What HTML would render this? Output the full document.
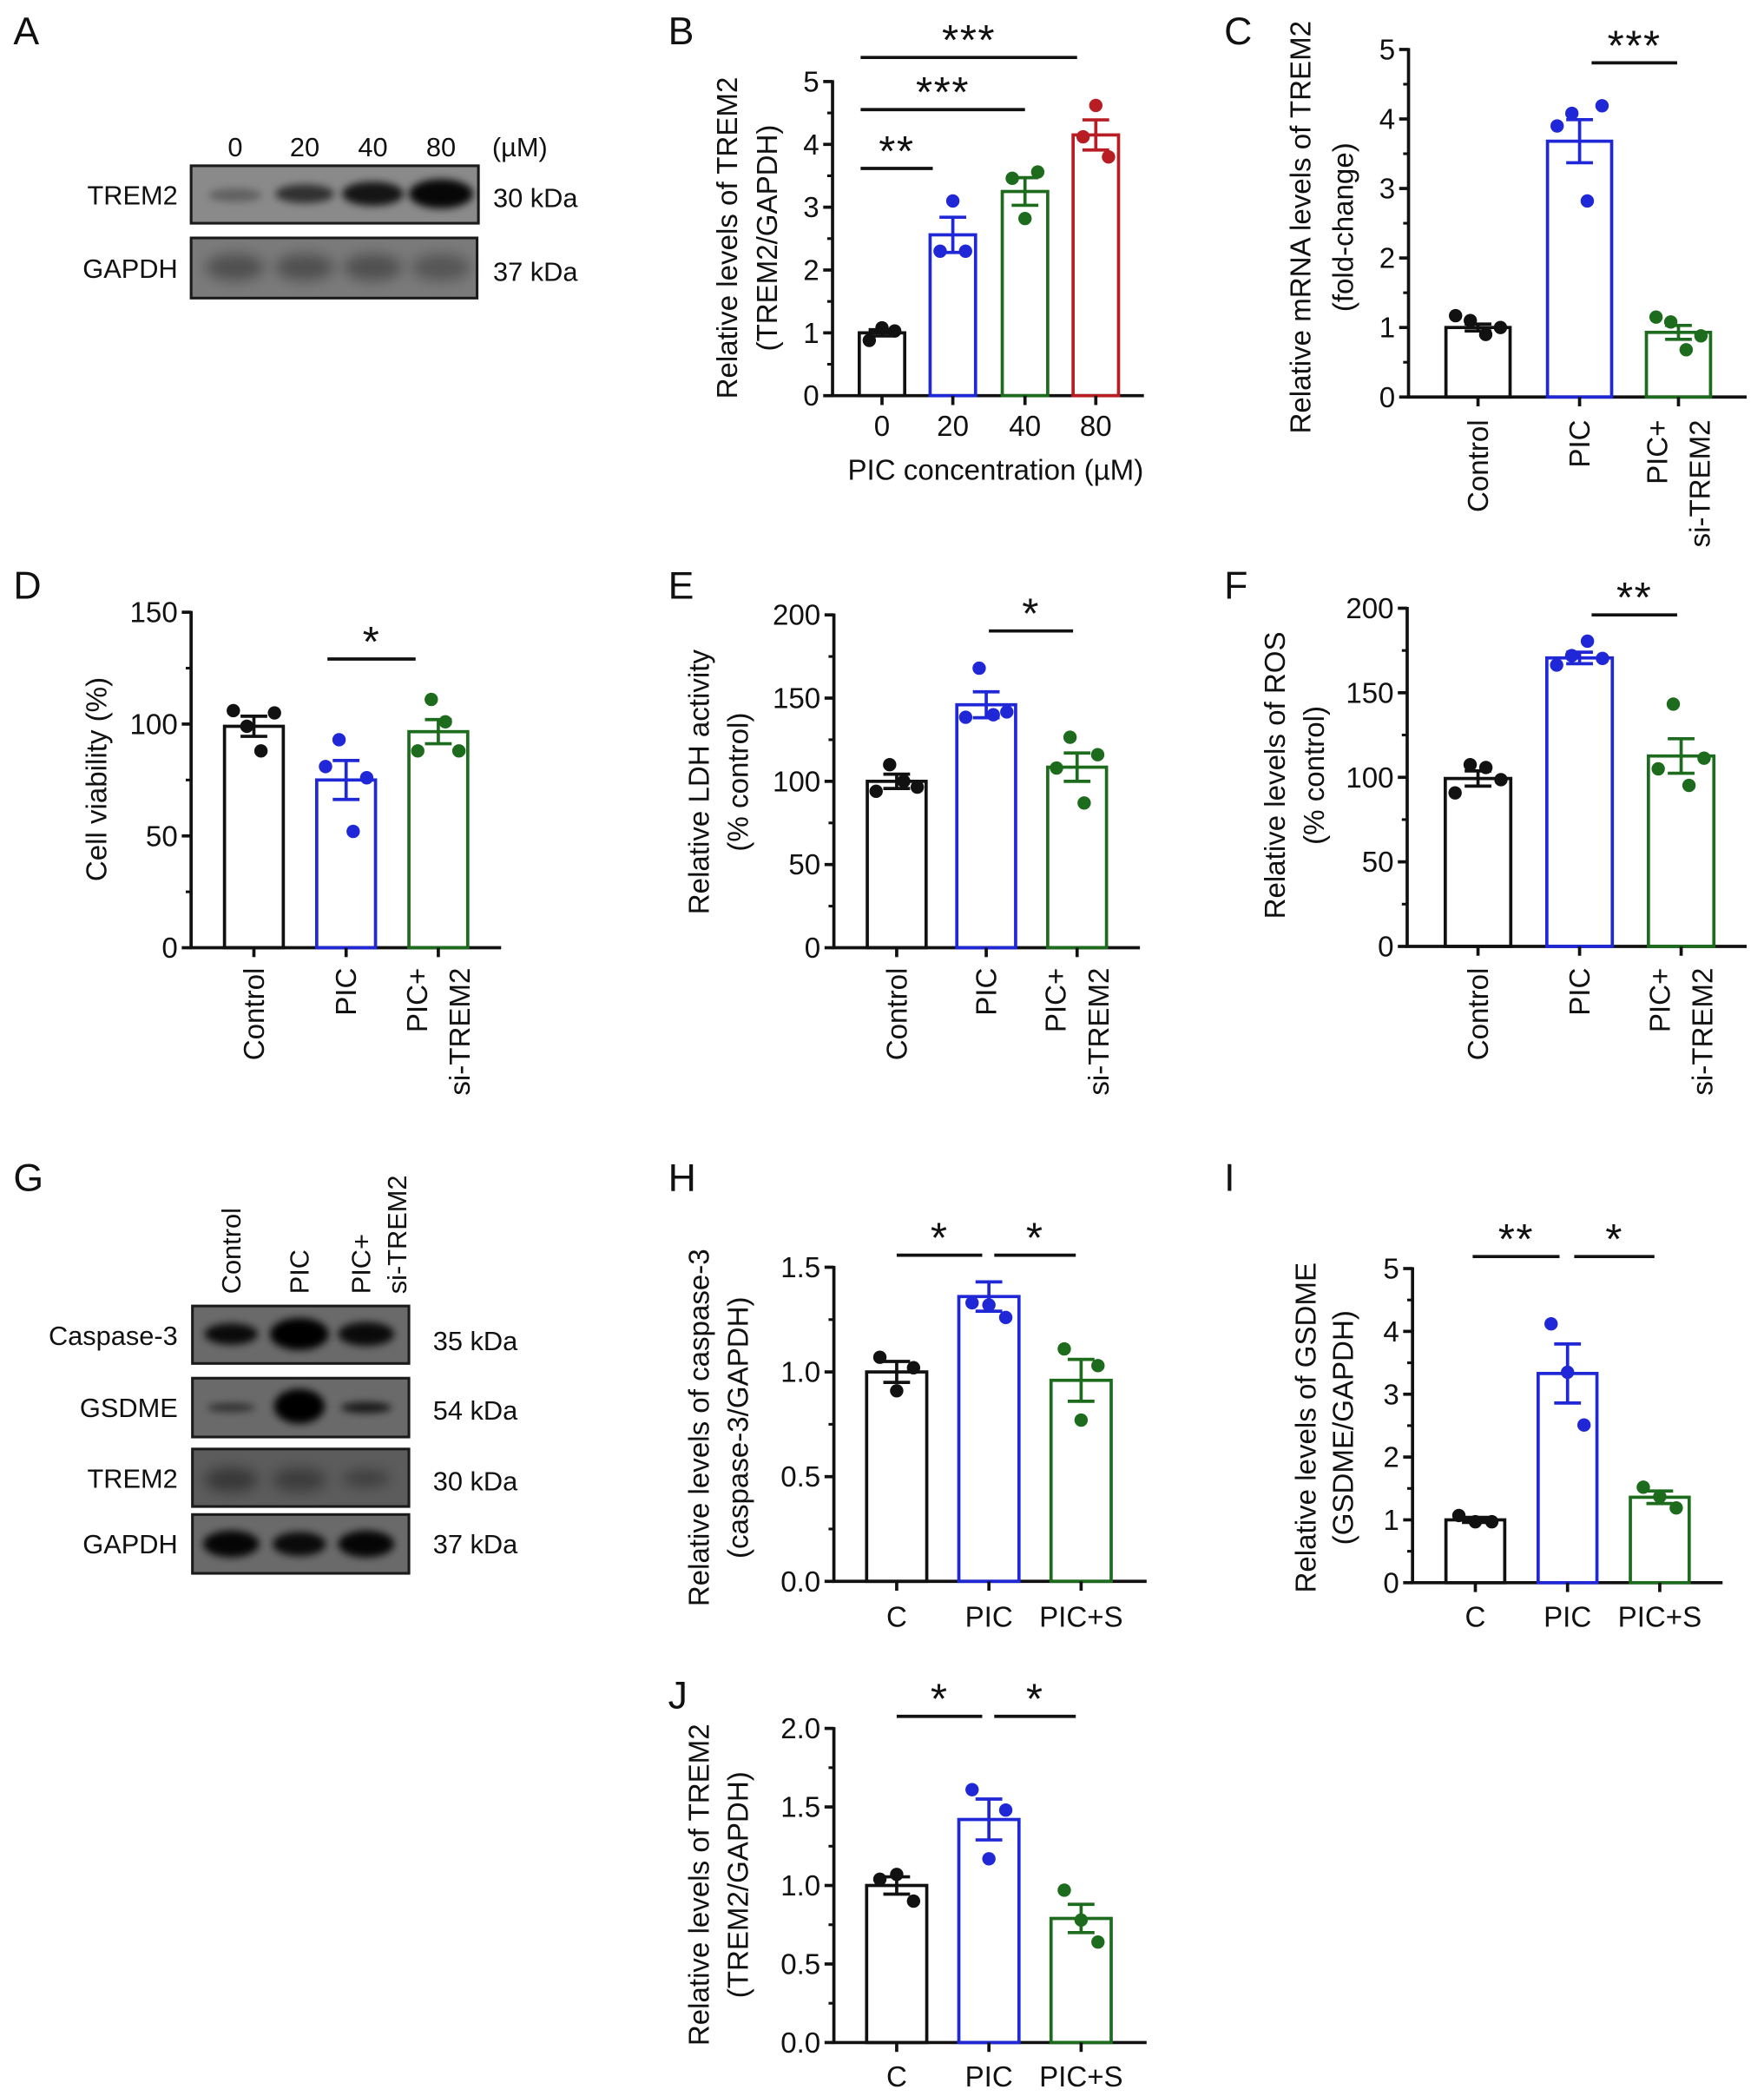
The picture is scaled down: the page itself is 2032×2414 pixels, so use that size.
<!DOCTYPE html>
<html>
<head>
<meta charset="utf-8">
<style>
html,body{margin:0;padding:0;background:#fff;}
svg{display:block;}
text{font-family:"Liberation Sans",Arial,sans-serif;fill:#111;}
</style>
</head>
<body>
<svg id="fig" xmlns="http://www.w3.org/2000/svg" width="2032" height="2414" viewBox="0 0 1320 1568" preserveAspectRatio="none">
<defs>
<filter id="blur3" x="-50%" y="-100%" width="200%" height="300%"><feGaussianBlur stdDeviation="3"/></filter>
<filter id="blur5" x="-50%" y="-100%" width="200%" height="300%"><feGaussianBlur stdDeviation="5"/></filter>
</defs>
<rect x="0" y="0" width="1320" height="1568" fill="#fff"/>

<g font-size="29">
<text x="10" y="33">A</text>
<text x="500" y="33">B</text>
<text x="916" y="33">C</text>
<text x="10" y="448">D</text>
<text x="500" y="448">E</text>
<text x="916" y="448">F</text>
<text x="10" y="891">G</text>
<text x="500" y="891">H</text>
<text x="916" y="891">I</text>
<text x="500" y="1278">J</text>
</g>

<g font-size="20">
<text x="176" y="117" text-anchor="middle">0</text>
<text x="228" y="117" text-anchor="middle">20</text>
<text x="279" y="117" text-anchor="middle">40</text>
<text x="330" y="117" text-anchor="middle">80</text>
<text x="389" y="117" text-anchor="middle">(µM)</text>
<rect x="143" y="124" width="215" height="43" fill="#8a8a8a" stroke="#1a1a1a" stroke-width="2"/>
<g filter="url(#blur3)">
<ellipse cx="176" cy="146" rx="20" ry="5" fill="#000" opacity="0.3"/>
<ellipse cx="228" cy="145" rx="22" ry="7" fill="#000" opacity="0.65"/>
<ellipse cx="279" cy="145" rx="23" ry="9" fill="#000" opacity="0.85"/>
<ellipse cx="330" cy="145" rx="24" ry="11" fill="#000" opacity="0.95"/>
</g>
<rect x="143" y="178" width="214" height="45" fill="#7a7a7a" stroke="#1a1a1a" stroke-width="2"/>
<g filter="url(#blur5)">
<ellipse cx="176" cy="200" rx="22" ry="10" fill="#000" opacity="0.35"/>
<ellipse cx="228" cy="200" rx="22" ry="10" fill="#000" opacity="0.35"/>
<ellipse cx="279" cy="200" rx="22" ry="10" fill="#000" opacity="0.35"/>
<ellipse cx="330" cy="200" rx="22" ry="10" fill="#000" opacity="0.3"/>
</g>
<text x="133" y="153" text-anchor="end">TREM2</text>
<text x="133" y="208" text-anchor="end">GAPDH</text>
<text x="369" y="155">30 kDa</text>
<text x="369" y="210">37 kDa</text>
</g>

<g font-size="20">
<text transform="translate(180,968) rotate(-90)">Control</text>
<text transform="translate(231,968) rotate(-90)">PIC</text>
<text transform="translate(277,968) rotate(-90)">PIC+</text>
<text transform="translate(304,968) rotate(-90)">si-TREM2</text>
<rect x="144" y="977" width="162" height="43" fill="#6a6a6a" stroke="#1a1a1a" stroke-width="2"/>
<g filter="url(#blur3)">
<ellipse cx="173" cy="998" rx="20" ry="8" fill="#000" opacity="0.9"/>
<ellipse cx="224" cy="998" rx="22" ry="12" fill="#000" opacity="1"/>
<ellipse cx="274" cy="998" rx="21" ry="9" fill="#000" opacity="0.9"/>
</g>
<rect x="144" y="1031" width="162" height="44" fill="#6a6a6a" stroke="#1a1a1a" stroke-width="2"/>
<g filter="url(#blur3)">
<ellipse cx="173" cy="1053" rx="18" ry="3" fill="#000" opacity="0.6"/>
<ellipse cx="224" cy="1052" rx="19" ry="13" fill="#000" opacity="1"/>
<ellipse cx="274" cy="1053" rx="19" ry="4" fill="#000" opacity="0.8"/>
</g>
<rect x="144" y="1084" width="162" height="43" fill="#5c5c5c" stroke="#1a1a1a" stroke-width="2"/>
<g filter="url(#blur5)">
<ellipse cx="173" cy="1107" rx="20" ry="9" fill="#000" opacity="0.4"/>
<ellipse cx="224" cy="1107" rx="20" ry="9" fill="#000" opacity="0.35"/>
<ellipse cx="274" cy="1106" rx="18" ry="6" fill="#000" opacity="0.35"/>
</g>
<rect x="144" y="1133" width="162" height="44" fill="#6a6a6a" stroke="#1a1a1a" stroke-width="2"/>
<g filter="url(#blur3)">
<ellipse cx="173" cy="1155" rx="21" ry="10" fill="#000" opacity="0.95"/>
<ellipse cx="224" cy="1155" rx="20" ry="9" fill="#000" opacity="0.9"/>
<ellipse cx="274" cy="1155" rx="21" ry="10" fill="#000" opacity="0.95"/>
</g>
<text x="133" y="1006" text-anchor="end">Caspase-3</text>
<text x="133" y="1060" text-anchor="end">GSDME</text>
<text x="133" y="1113" text-anchor="end">TREM2</text>
<text x="133" y="1162" text-anchor="end">GAPDH</text>
<text x="324" y="1010">35 kDa</text>
<text x="324" y="1062">54 kDa</text>
<text x="324" y="1115">30 kDa</text>
<text x="324" y="1162">37 kDa</text>
</g>
</svg>

<script>
const bCategories = ['0', '20', '40', '80'];
const bMeans = [1.0, 2.56, 3.25, 4.15];
const bErrors = [0.05, 0.28, 0.22, 0.24];
const bPoints = [[0.88, 1.08, 1.03], [2.3, 3.1, 2.3], [3.46, 2.82, 3.56], [4.12, 4.62, 3.8]];
const bTicks = [0, 1, 2, 3, 4, 5];
const bTickLabels = ['0', '1', '2', '3', '4', '5'];
const cCategories = ['Control', 'PIC', 'PIC+|si-TREM2'];
const cMeans = [1.0, 3.68, 0.93];
const cErrors = [0.05, 0.31, 0.1];
const cPoints = [[1.17, 1.1, 0.9, 1.0], [3.9, 4.08, 2.82, 4.19], [1.15, 1.08, 0.68, 0.88]];
const cTicks = [0, 1, 2, 3, 4, 5];
const cTickLabels = ['0', '1', '2', '3', '4', '5'];
const dCategories = ['Control', 'PIC', 'PIC+|si-TREM2'];
const dMeans = [99, 75, 96.6];
const dErrors = [4.5, 8.7, 5.4];
const dPoints = [[106, 99, 88, 105], [81, 93, 52, 76], [88, 111, 101, 88]];
const dTicks = [0, 50, 100, 150];
const dTickLabels = ['0', '50', '100', '150'];
const eCategories = ['Control', 'PIC', 'PIC+|si-TREM2'];
const eMeans = [100, 146, 108.5];
const eErrors = [4.3, 7.8, 8.5];
const ePoints = [[94, 110, 100, 96.5], [138.5, 168, 140, 141.7], [108, 126.5, 87, 116]];
const eTicks = [0, 50, 100, 150, 200];
const eTickLabels = ['0', '50', '100', '150', '200'];
const fCategories = ['Control', 'PIC', 'PIC+|si-TREM2'];
const fMeans = [99.3, 170.6, 112.6];
const fErrors = [4.5, 3.4, 10.2];
const fPoints = [[90.8, 107.5, 105.8, 98.6], [166.4, 172, 180.5, 170.3], [105, 143.3, 95.2, 111.3]];
const fTicks = [0, 50, 100, 150, 200];
const fTickLabels = ['0', '50', '100', '150', '200'];
const hCategories = ['C', 'PIC', 'PIC+S'];
const hMeans = [1.0, 1.36, 0.96];
const hErrors = [0.05, 0.07, 0.1];
const hPoints = [[1.07, 0.91, 1.02], [1.33, 1.32, 1.26], [1.11, 0.77, 1.03]];
const hTicks = [0, 0.5, 1.0, 1.5];
const hTickLabels = ['0.0', '0.5', '1.0', '1.5'];
const iCategories = ['C', 'PIC', 'PIC+S'];
const iMeans = [1.0, 3.33, 1.36];
const iErrors = [0.04, 0.47, 0.1];
const iPoints = [[1.07, 0.97, 0.97], [4.12, 3.35, 2.51], [1.52, 1.37, 1.19]];
const iTicks = [0, 1, 2, 3, 4, 5];
const iTickLabels = ['0', '1', '2', '3', '4', '5'];
const jCategories = ['C', 'PIC', 'PIC+S'];
const jMeans = [1.0, 1.42, 0.79];
const jErrors = [0.055, 0.13, 0.09];
const jPoints = [[1.04, 1.07, 0.9], [1.61, 1.17, 1.48], [0.97, 0.78, 0.64]];
const jTicks = [0, 0.5, 1.0, 1.5, 2.0];
const jTickLabels = ['0.0', '0.5', '1.0', '1.5', '2.0'];

const NS = 'http://www.w3.org/2000/svg';
const fig = document.getElementById('fig');
const FS = 21.5;

function mk(tag, attrs, name, parent) {
  const el = document.createElementNS(NS, tag);
  for (const k in attrs) el.setAttribute(k, attrs[k]);
  
  
  (parent || fig).appendChild(el);
  return el;
}

const BLACK = '#111111', BLUE = '#1f27d6', GREEN = '#1d6b1d', RED = '#b81d24';

function drawChart(cfg) {
  const g = mk('g', {}, cfg.name);
  const yMax = cfg.ticks[cfg.ticks.length - 1];
  const y = v => cfg.y0 - (v / yMax) * (cfg.y0 - cfg.yTop);
  const sw = 2.4;
  mk('line', {x1: cfg.ax, y1: cfg.yTop - 1, x2: cfg.ax, y2: cfg.y0, stroke: BLACK, 'stroke-width': sw}, 'y-axis', g);
  mk('line', {x1: cfg.ax - 1, y1: cfg.y0, x2: cfg.xEnd, y2: cfg.y0, stroke: BLACK, 'stroke-width': sw}, 'x-axis', g);
  cfg.ticks.forEach((t, i) => {
    mk('line', {x1: cfg.ax - 7, y1: y(t), x2: cfg.ax, y2: y(t), stroke: BLACK, 'stroke-width': sw}, 'y-tick', g);
    const tl = mk('text', {x: cfg.ax - 10, y: y(t) + 7.5, 'text-anchor': 'end', 'font-size': FS}, 'y-tick-label', g);
    tl.textContent = cfg.tickLabels[i];
  });
  for (let i = 0; i < cfg.ticks.length - 1; i++) {
    const m = (cfg.ticks[i] + cfg.ticks[i + 1]) / 2;
    mk('line', {x1: cfg.ax - 4, y1: y(m), x2: cfg.ax, y2: y(m), stroke: BLACK, 'stroke-width': 2}, 'y-minor-tick', g);
  }
  cfg.means.forEach((v, i) => {
    const cx = cfg.centers[i], col = cfg.colors[i], w = cfg.barW;
    mk('rect', {x: cx - w / 2, y: y(v), width: w, height: cfg.y0 - y(v), fill: 'none', stroke: col, 'stroke-width': sw}, 'bar-' + cfg.cats[i].replace(/[^A-Za-z0-9]+/g, '-').toLowerCase(), g);
    mk('line', {x1: cx, y1: cfg.y0, x2: cx, y2: cfg.y0 + 7, stroke: BLACK, 'stroke-width': sw}, 'x-tick', g);
    const pts = cfg.points[i];
    const offs = pts.length === 4 ? [-0.35, -0.12, 0.12, 0.35] : [-0.28, 0, 0.28];
    pts.forEach((p, k) => {
      mk('circle', {cx: cx + offs[k] * w, cy: y(p), r: 5, fill: col}, 'data-point', g);
    });
    const e = cfg.errors[i];
    mk('line', {x1: cx, y1: y(v + e), x2: cx, y2: y(v - e), stroke: col, 'stroke-width': sw}, 'error-bar', g);
    mk('line', {x1: cx - 10, y1: y(v + e), x2: cx + 10, y2: y(v + e), stroke: col, 'stroke-width': sw}, 'error-cap-top', g);
    mk('line', {x1: cx - 10, y1: y(v - e), x2: cx + 10, y2: y(v - e), stroke: col, 'stroke-width': sw}, 'error-cap-bottom', g);
    const lab = cfg.cats[i];
    if (cfg.rotated) {
      const parts = lab.split('|');
      if (parts.length === 1) {
        const t = mk('text', {transform: 'translate(' + (cx + 7.5) + ',' + cfg.labY + ') rotate(-90)', 'text-anchor': 'end', 'font-size': FS}, 'x-category-label', g);
        t.textContent = lab;
      } else {
        parts.forEach((pt, k) => {
          const t = mk('text', {transform: 'translate(' + (cx + 7.5 + (k === 0 ? -16 : 16)) + ',' + cfg.labY + ') rotate(-90)', 'text-anchor': 'end', 'font-size': FS}, 'x-category-label', g);
          t.textContent = pt;
        });
      }
    } else {
      const t = mk('text', {x: cx, y: cfg.labY, 'text-anchor': 'middle', 'font-size': FS}, 'x-category-label', g);
      t.textContent = lab;
    }
  });
  cfg.sig.forEach(s => {
    mk('line', {x1: s.x1, y1: s.y, x2: s.x2, y2: s.y, stroke: BLACK, 'stroke-width': 2.4}, 'significance-line', g);
    const t = mk('text', {x: (s.x1 + s.x2) / 2, y: s.y - 2, 'text-anchor': 'middle', 'font-size': 32, 'letter-spacing': '1'}, 'significance-stars', g);
    t.textContent = s.label;
  });
  cfg.yTitle.forEach((line, k) => {
    const t = mk('text', {transform: 'translate(' + (cfg.yTitleX[k] + 7.5) + ',' + cfg.yTitleY + ') rotate(-90)', 'text-anchor': 'middle', 'font-size': FS}, 'y-axis-title', g);
    t.textContent = line;
  });
  if (cfg.xTitle) {
    const t = mk('text', {x: cfg.xTitle.x, y: cfg.xTitle.y, 'text-anchor': 'middle', 'font-size': FS}, 'x-axis-title', g);
    t.textContent = cfg.xTitle.text;
  }
}

drawChart({name: 'chart-b', ax: 623, xEnd: 856, yTop: 61, y0: 296, centers: [660, 713, 767, 820], barW: 34,
  means: bMeans, errors: bErrors, points: bPoints, ticks: bTicks, tickLabels: bTickLabels, cats: bCategories,
  colors: [BLACK, BLUE, GREEN, RED], rotated: false, labY: 326,
  sig: [{x1: 644, x2: 698, y: 126, label: '**'}, {x1: 644, x2: 767, y: 82, label: '***'}, {x1: 644, x2: 806, y: 43, label: '***'}],
  yTitle: ['Relative levels of TREM2', '(TREM2/GAPDH)'], yTitleX: [544, 574], yTitleY: 178,
  xTitle: {x: 745, y: 359, text: 'PIC concentration (µM)'}});

drawChart({name: 'chart-c', ax: 1054, xEnd: 1307, yTop: 37, y0: 297, centers: [1106, 1182, 1256], barW: 48,
  means: cMeans, errors: cErrors, points: cPoints, ticks: cTicks, tickLabels: cTickLabels, cats: cCategories,
  colors: [BLACK, BLUE, GREEN], rotated: true, labY: 314,
  sig: [{x1: 1191, x2: 1255, y: 47, label: '***'}],
  yTitle: ['Relative mRNA levels of TREM2', '(fold-change)'], yTitleX: [973, 1005], yTitleY: 170});

drawChart({name: 'chart-d', ax: 143, xEnd: 375, yTop: 458, y0: 709, centers: [190, 259, 328], barW: 44,
  means: dMeans, errors: dErrors, points: dPoints, ticks: dTicks, tickLabels: dTickLabels, cats: dCategories,
  colors: [BLACK, BLUE, GREEN], rotated: true, labY: 724,
  sig: [{x1: 245, x2: 311, y: 493, label: '*'}],
  yTitle: ['Cell viability (%)'], yTitleX: [72], yTitleY: 583});

drawChart({name: 'chart-e', ax: 624, xEnd: 853, yTop: 460, y0: 709, centers: [671, 738, 806], barW: 44,
  means: eMeans, errors: eErrors, points: ePoints, ticks: eTicks, tickLabels: eTickLabels, cats: eCategories,
  colors: [BLACK, BLUE, GREEN], rotated: true, labY: 724,
  sig: [{x1: 740, x2: 803, y: 472, label: '*'}],
  yTitle: ['Relative LDH activity', '(% control)'], yTitleX: [523, 552], yTitleY: 585});

drawChart({name: 'chart-f', ax: 1053, xEnd: 1307, yTop: 455, y0: 708, centers: [1106, 1182, 1258], barW: 49,
  means: fMeans, errors: fErrors, points: fPoints, ticks: fTicks, tickLabels: fTickLabels, cats: fCategories,
  colors: [BLACK, BLUE, GREEN], rotated: true, labY: 724,
  sig: [{x1: 1191, x2: 1255, y: 460, label: '**'}],
  yTitle: ['Relative levels of ROS', '(% control)'], yTitleX: [954, 983], yTitleY: 580});

drawChart({name: 'chart-h', ax: 624, xEnd: 858, yTop: 948, y0: 1183, centers: [671, 740, 809], barW: 45,
  means: hMeans, errors: hErrors, points: hPoints, ticks: hTicks, tickLabels: hTickLabels, cats: hCategories,
  colors: [BLACK, BLUE, GREEN], rotated: false, labY: 1217,
  sig: [{x1: 671, x2: 735, y: 939, label: '*'}, {x1: 744, x2: 805, y: 939, label: '*'}],
  yTitle: ['Relative levels of caspase-3', '(caspase-3/GAPDH)'], yTitleX: [523, 552], yTitleY: 1068});

drawChart({name: 'chart-i', ax: 1057, xEnd: 1289, yTop: 949, y0: 1184, centers: [1104, 1173, 1242], barW: 44,
  means: iMeans, errors: iErrors, points: iPoints, ticks: iTicks, tickLabels: iTickLabels, cats: iCategories,
  colors: [BLACK, BLUE, GREEN], rotated: false, labY: 1217,
  sig: [{x1: 1102, x2: 1167, y: 940, label: '**'}, {x1: 1178, x2: 1238, y: 940, label: '*'}],
  yTitle: ['Relative levels of GSDME', '(GSDME/GAPDH)'], yTitleX: [977, 1005], yTitleY: 1068});

drawChart({name: 'chart-j', ax: 624, xEnd: 858, yTop: 1293, y0: 1528, centers: [671, 740, 809], barW: 45,
  means: jMeans, errors: jErrors, points: jPoints, ticks: jTicks, tickLabels: jTickLabels, cats: jCategories,
  colors: [BLACK, BLUE, GREEN], rotated: false, labY: 1561,
  sig: [{x1: 671, x2: 735, y: 1284, label: '*'}, {x1: 744, x2: 805, y: 1284, label: '*'}],
  yTitle: ['Relative levels of TREM2', '(TREM2/GAPDH)'], yTitleX: [523, 552], yTitleY: 1410});
</script>
</body>
</html>
